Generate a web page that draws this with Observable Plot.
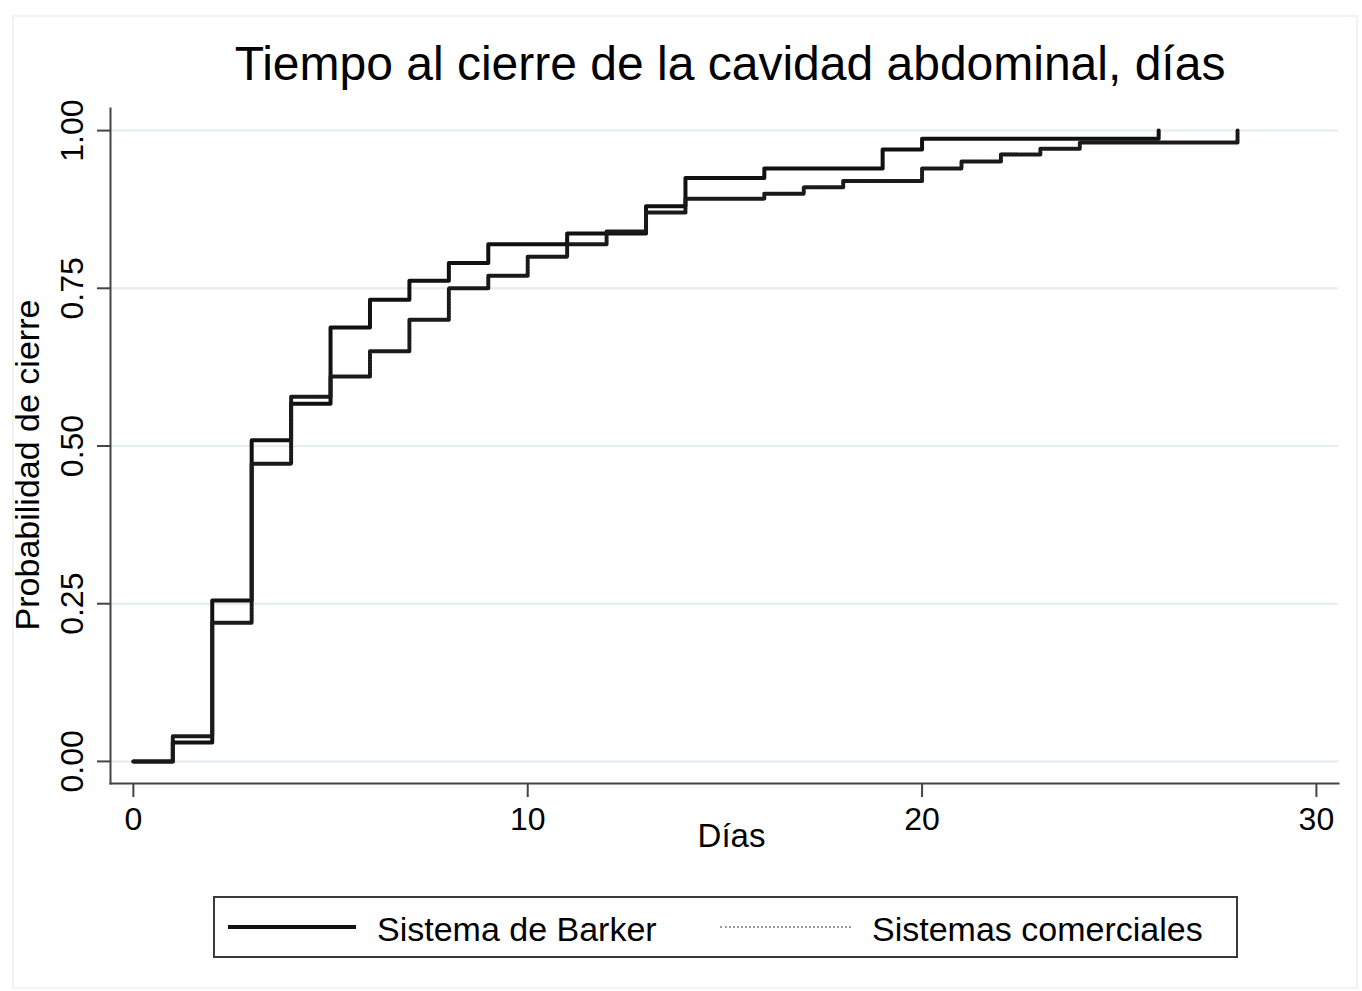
<!DOCTYPE html>
<html>
<head>
<meta charset="utf-8">
<script src="https://cdn.jsdelivr.net/npm/d3@7"></script>
<script src="https://cdn.jsdelivr.net/npm/@observablehq/plot@0.6"></script>
<style>
  html, body { margin: 0; padding: 0; background: #fff; }
  #wrap { position: relative; width: 1362px; height: 991px; overflow: hidden;
          font-family: "Liberation Sans", Arial, Helvetica, sans-serif; color: #000; }
  #outer { position: absolute; left: 12px; top: 15px; width: 1346px; height: 974px;
           border: 2px solid #eef4f6; box-sizing: border-box; }
  #chart { position: absolute; left: 0; top: 0; }
  #title { position: absolute; left: 0; top: 36px; width: 1460px; text-align: center;
           font-size: 48px; line-height: 56px; white-space: nowrap; }
  #legend { position: absolute; left: 213px; top: 896px; width: 1025px; height: 62px;
            box-sizing: border-box; border: 2px solid #3a3a3a; background: #fff; }
  .sw { position: absolute; }
  .lt { position: absolute; font-size: 34px; line-height: 40px; top: 11px; white-space: nowrap; }
</style>
</head>
<body>
<div id="wrap">
  <div id="outer"></div>
  <div id="chart"></div>
  <div id="title"></div>
  <div id="legend"></div>
</div>
<script>
// ---- data ----
const titleText = "Tiempo al cierre de la cavidad abdominal, días";
const xLabel = "Días";
const yLabel = "Probabilidad de cierre";
const seriesNames = ["Sistema de Barker", "Sistemas comerciales"];

const barkerDays = [0, 1, 2, 3, 4, 5, 6, 7, 8, 9, 11, 13, 14, 16, 19, 20, 26];
const barkerProb = [0, 0.03, 0.255, 0.509, 0.567, 0.688, 0.732, 0.762, 0.79, 0.82, 0.837, 0.88, 0.925, 0.94, 0.97, 0.987, 1.0];

const comercDays = [0, 1, 2, 3, 4, 5, 6, 7, 8, 9, 10, 11, 12, 13, 14, 16, 17, 18, 20, 21, 22, 23, 24, 28];
const comercProb = [0, 0.04, 0.22, 0.472, 0.578, 0.61, 0.65, 0.70, 0.75, 0.77, 0.80, 0.82, 0.84, 0.87, 0.892, 0.90, 0.91, 0.92, 0.94, 0.951, 0.962, 0.971, 0.981, 1.0];

const xTicks = [0, 10, 20, 30];
const yTicks = [0, 0.25, 0.5, 0.75, 1];

// ---- build ----
const barker = barkerDays.map((d, i) => ({day: d, p: barkerProb[i]}));
const comerc = comercDays.map((d, i) => ({day: d, p: comercProb[i]}));

const chart = Plot.plot({
  width: 1362,
  height: 991,
  marginLeft: 110,
  marginRight: 24,
  marginTop: 108,
  marginBottom: 208,
  style: {fontFamily: '"Liberation Sans", Arial, Helvetica, sans-serif', background: "transparent", color: "#000"},
  x: {domain: [-0.58, 30.56]},
  y: {domain: [-0.035, 1.035]},
  marks: [
    Plot.gridY(yTicks, {stroke: "#e3ecf0", strokeOpacity: 1, strokeWidth: 2}),
    Plot.frame({anchor: "left", stroke: "#444", strokeWidth: 2}),
    Plot.frame({anchor: "bottom", stroke: "#444", strokeWidth: 2}),
    Plot.axisY({ticks: yTicks, tickSize: 13, tickRotate: -90, tickPadding: 15,
                tickFormat: d => d.toFixed(2), fontSize: 32, label: null,
                stroke: "#444", strokeWidth: 2}),
    Plot.axisX({ticks: xTicks, tickSize: 14, tickPadding: 10, tickFormat: d => String(d),
                fontSize: 32, label: null, stroke: "#444", strokeWidth: 2}),
    Plot.text([yLabel], {text: d => d, frameAnchor: "left", rotate: -90, lineAnchor: "top",
                         textAnchor: "middle", dx: -96, dy: 19, fontSize: 34}),
    Plot.text([xLabel], {text: d => d, frameAnchor: "bottom", lineAnchor: "top",
                         textAnchor: "middle", dx: 7, dy: 40, fontSize: 33}),
    Plot.line(barker, {x: "day", y: "p", curve: "step-after", stroke: "#111", strokeWidth: 4}),
    Plot.line(comerc, {x: "day", y: "p", curve: "step-after", stroke: "#1a1a1a", strokeWidth: 4,
                       strokeDasharray: "2,1"})
  ]
});
document.getElementById("chart").appendChild(chart);

document.getElementById("title").textContent = titleText;

// legend
const lg = document.getElementById("legend");
lg.innerHTML = `
  <div class="sw" style="left:13px;top:27px;width:128px;height:4px;background:#111"></div>
  <div class="lt" style="left:162px">${seriesNames[0]}</div>
  <div class="sw" style="left:505px;top:28px;width:131px;height:0;border-top:2px dotted #999"></div>
  <div class="lt" style="left:657px">${seriesNames[1]}</div>
`;
</script>
</body>
</html>
